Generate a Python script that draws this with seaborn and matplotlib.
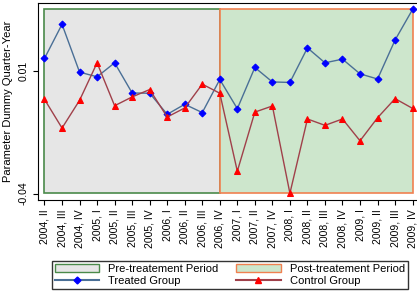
import pandas as pd
import seaborn as sns
import matplotlib.pyplot as plt
from matplotlib.patches import Rectangle
from matplotlib.lines import Line2D

# quarters on the x axis (2007, III is absent in the source chart)
quarters = ["2004, II", "2004, III", "2004, IV",
            "2005, I", "2005, II", "2005, III", "2005, IV",
            "2006, I", "2006, II", "2006, III", "2006, IV",
            "2007, I", "2007, II", "2007, IV",
            "2008, I", "2008, II", "2008, III", "2008, IV",
            "2009, I", "2009, II", "2009, III", "2009, IV"]

treated = [0.0151, 0.0290, 0.0095, 0.0076, 0.0133, 0.0010, 0.0009, -0.0077,
           -0.0036, -0.0070, 0.0065, -0.0054, 0.0114, 0.0055, 0.0053, 0.0194,
           0.0133, 0.0148, 0.0088, 0.0067, 0.0226, 0.0351]
control = [-0.0016, -0.0133, -0.0020, 0.0133, -0.0042, -0.0006, 0.0024, -0.0088,
           -0.0051, 0.0046, 0.0009, -0.0309, -0.0068, -0.0043, -0.0399, -0.0096,
           -0.0122, -0.0096, -0.0185, -0.0091, -0.0013, -0.0053]

pre_end = "2006, IV"
y_ticks = [0.01, -0.04]

plt.rcParams['font.family'] = ['Liberation Sans', 'DejaVu Sans']

df = pd.DataFrame({'pos': range(len(quarters)), 'treated': treated, 'control': control})

fig, ax = plt.subplots(figsize=(4.17, 2.98), dpi=100)

lo = min(df['treated'].min(), df['control'].min())
hi = max(df['treated'].max(), df['control'].max())
split = quarters.index(pre_end)
last = len(quarters) - 1

ax.add_patch(Rectangle((0, lo), split, hi - lo, facecolor='#e6e6e6',
                       edgecolor='#4a8a4a', lw=1.2, zorder=0))
ax.add_patch(Rectangle((split, lo), last - split, hi - lo, facecolor='#cde6cc',
                       edgecolor='#f08050', lw=1.2, zorder=0))

sns.lineplot(data=df, x='pos', y='treated', ax=ax, color='#4a6f96', lw=1,
             marker='D', markersize=3.5, markerfacecolor='blue', markeredgecolor='blue')
sns.lineplot(data=df, x='pos', y='control', ax=ax, color='#a0404a', lw=1,
             marker='^', markersize=5, markerfacecolor='red', markeredgecolor='red')

ax.set_xlim(-0.35, last + 0.25)
ax.set_ylim(-0.0425, 0.0377)
ax.set_xticks(range(len(quarters)))
ax.set_xticklabels(quarters, rotation=90, fontsize=7.5)
ax.set_yticks(y_ticks)
ax.set_yticklabels([str(t) for t in y_ticks], rotation=90, va='center', fontsize=7.5)
ax.set_xlabel('')
ax.set_ylabel('Parameter Dummy Quarter-Year', fontsize=8)
ax.spines['right'].set_visible(False)

handles = [Rectangle((0, 0), 1, 1, facecolor='#e6e6e6', edgecolor='#4a8a4a'),
           Line2D([], [], color='#4a6f96', marker='D', markersize=3.5,
                  markerfacecolor='blue', markeredgecolor='blue'),
           Rectangle((0, 0), 1, 1, facecolor='#cde6cc', edgecolor='#f08050'),
           Line2D([], [], color='#a0404a', marker='^', markersize=5,
                  markerfacecolor='red', markeredgecolor='red')]
labels = ['Pre-treatement Period', 'Treated Group', 'Post-treatement Period', 'Control Group']
fig.legend(handles, labels, ncol=2, loc='lower center', bbox_to_anchor=(0.551, 0.01),
           fontsize=8, frameon=True, fancybox=False, edgecolor='black',
           handlelength=4, columnspacing=1.6, borderpad=0.3, labelspacing=0.2)

fig.subplots_adjust(left=0.092, right=1.0, top=0.99, bottom=0.33)
fig.savefig('out.png', dpi=100)
